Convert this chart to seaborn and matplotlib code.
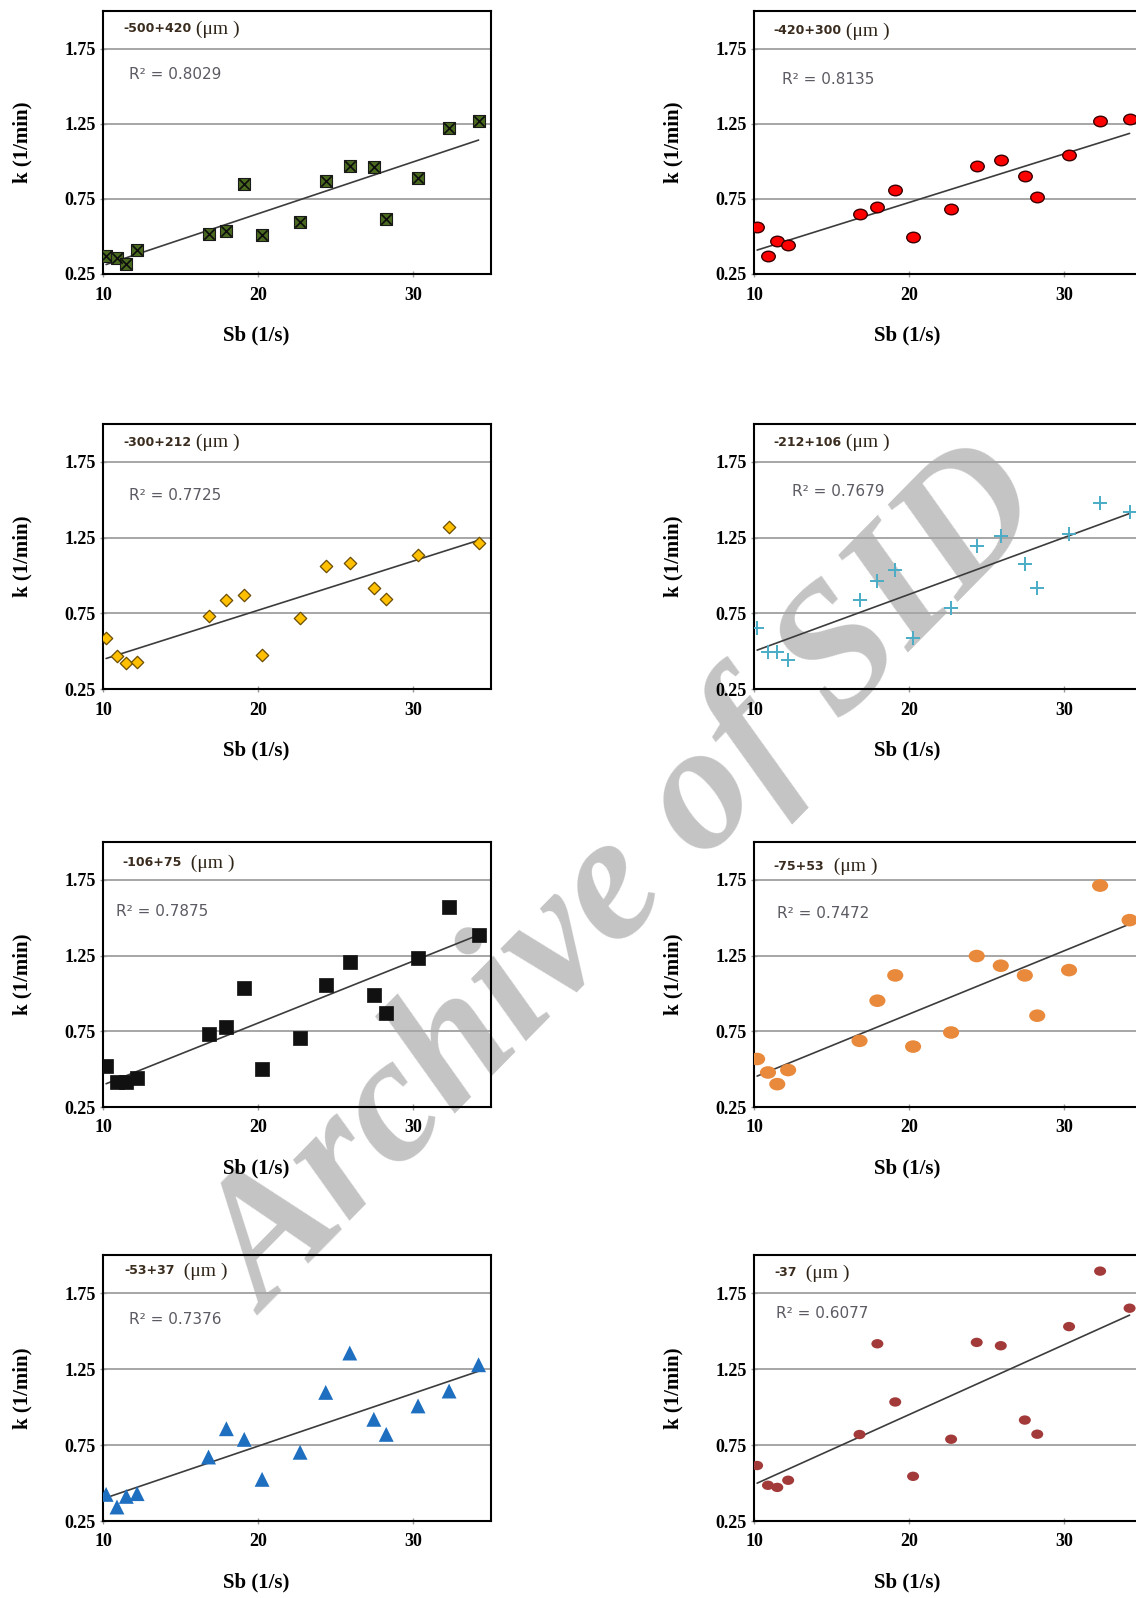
import numpy as np
import pandas as pd
import matplotlib
matplotlib.use("Agg")
import matplotlib.pyplot as plt
import seaborn as sns
from matplotlib.path import Path
from matplotlib.transforms import Affine2D

# ---------------- data ----------------
sb = [10.2, 10.9, 11.5, 12.2, 16.8, 17.95, 19.1, 20.25, 22.7, 24.35,
      25.9, 27.45, 28.25, 30.3, 32.3, 34.2]

k_500_420 = [0.370, 0.357, 0.317, 0.410, 0.517, 0.539, 0.850, 0.510, 0.599, 0.870,
             0.968, 0.961, 0.614, 0.892, 1.219, 1.268]
k_420_300 = [0.564, 0.369, 0.467, 0.445, 0.650, 0.695, 0.810, 0.493, 0.681, 0.967,
             1.009, 0.905, 0.763, 1.040, 1.270, 1.279]
k_300_212 = [0.586, 0.466, 0.425, 0.427, 0.730, 0.835, 0.874, 0.473, 0.717, 1.062,
             1.084, 0.920, 0.842, 1.136, 1.322, 1.215]
k_212_106 = [0.656, 0.495, 0.495, 0.439, 0.838, 0.963, 1.037, 0.587, 0.785, 1.197,
             1.260, 1.075, 0.914, 1.275, 1.478, 1.422]
k_106_75 = [0.519, 0.418, 0.418, 0.440, 0.729, 0.780, 1.036, 0.504, 0.707, 1.056,
            1.209, 0.990, 0.871, 1.237, 1.573, 1.385]
k_75_53 = [0.567, 0.478, 0.401, 0.494, 0.687, 0.952, 1.119, 0.649, 0.742, 1.247,
           1.183, 1.119, 0.853, 1.154, 1.712, 1.484]
k_53_37 = [0.425, 0.342, 0.412, 0.430, 0.671, 0.857, 0.787, 0.524, 0.702, 1.096,
           1.355, 0.919, 0.820, 1.007, 1.105, 1.278]
k_37 = [0.615, 0.485, 0.471, 0.518, 0.819, 1.416, 1.033, 0.544, 0.788, 1.425,
        1.403, 0.914, 0.821, 1.529, 1.894, 1.650]

series = [k_500_420, k_420_300, k_300_212, k_212_106, k_106_75, k_75_53, k_53_37, k_37]
sizes_txt = ["-500+420", "-420+300", "-300+212", "-212+106", "-106+75", "-75+53", "-53+37", "-37"]
unit_txt = [" (\u03bcm )", " (\u03bcm )", " (\u03bcm )", " (\u03bcm )",
            "  (\u03bcm )", "  (\u03bcm )", "  (\u03bcm )", "  (\u03bcm )"]
r2_txt = ["0.8029", "0.8135", "0.7725", "0.7679", "0.7875", "0.7472", "0.7376", "0.6077"]
x_ticks = [10, 20, 30]
y_ticks = [0.25, 0.75, 1.25, 1.75]
y_ticklabels = ["0.25", "0.75", "1.25", "1.75"]

# ---------------- style ----------------
sns.set_theme(style="white")
plt.rcParams["font.family"] = ["DejaVu Sans"]

W, H = 1136, 1598
fig = plt.figure(figsize=(W / 100, H / 100), dpi=100, facecolor="white")

ellipse = Path.unit_circle().transformed(Affine2D().scale(1.0, 0.78))
styles = [
    dict(marker="s", color="#4a6a20", edgecolor="#1a1a1a", s=72, linewidth=0.8),
    dict(marker=ellipse, color="#ff0000", edgecolor="#3a0000", s=95, linewidth=1.0),
    dict(marker="D", color="#ffc000", edgecolor="#6b4c00", s=40, linewidth=0.9),
    dict(marker="+", color="#4bacc6", s=110, linewidth=1.4),
    dict(marker="s", color="#111111", edgecolor="#111111", s=100, linewidth=0.5),
    dict(marker=ellipse, color="#e8893c", edgecolor="none", s=135, linewidth=0),
    dict(marker="^", color="#1f6fc0", edgecolor="none", s=115, linewidth=0),
    dict(marker=ellipse, color="#a33a3a", edgecolor="none", s=75, linewidth=0),
]

col_left = [103, 754]
ax_w = 388
row_top = [11, 424, 842, 1255]
row_bot = [274, 689, 1107, 1521]
title_off = [(20, 18), (19, 20), (20, 18), (19, 18), (19, 21), (19, 24), (21, 16), (20, 18)]
r2_off = [(26, 64), (28, 69), (26, 71), (38, 67), (13, 70), (23, 72), (26, 64), (22, 59)]

serif = "Liberation Serif"

for i, kvals in enumerate(series):
    r, c = divmod(i, 2)
    l, t, b = col_left[c], row_top[r], row_bot[r]
    ax = fig.add_axes([l / W, 1 - b / H, ax_w / W, (b - t) / H])
    ax.set_facecolor("none")
    df = pd.DataFrame({"Sb": sb, "k": kvals})

    ax.set_xlim(10, 35)
    ax.set_ylim(0.25, 2.0)
    for yv in y_ticks[1:]:
        ax.axhline(yv, color="#a6a6a6", lw=1.4, zorder=0.5)

    sns.regplot(data=df, x="Sb", y="k", scatter=False, ci=None, truncate=True,
                line_kws=dict(color="#3c3c3c", lw=1.2, zorder=2), ax=ax)
    st = dict(styles[i])
    sns.scatterplot(data=df, x="Sb", y="k", legend=False, zorder=3, ax=ax, **st)
    if i == 0:
        sns.scatterplot(data=df, x="Sb", y="k", legend=False, zorder=4, ax=ax,
                        marker="x", color="#0d0d0d", s=55, linewidth=1.2)

    ax.set_xlim(10, 35)
    ax.set_ylim(0.25, 2.0)
    ax.set_xticks(x_ticks)
    ax.set_xticklabels([str(v) for v in x_ticks])
    ax.set_yticks(y_ticks)
    ax.set_yticklabels(y_ticklabels)
    for lab in ax.get_xticklabels() + ax.get_yticklabels():
        lab.set_fontfamily(serif)
        lab.set_fontweight("bold")
        lab.set_fontsize(13)
        lab.set_color("black")
    ax.tick_params(axis="both", direction="inout", length=4, width=1,
                   color="#9a9a9a", bottom=True, left=True)
    ax.tick_params(axis="x", pad=7)
    ax.tick_params(axis="y", pad=3)
    for sp in ax.spines.values():
        sp.set_color("black")
        sp.set_linewidth(1.5)
        sp.set_visible(True)
    ax.grid(False)

    ax.set_xlabel("Sb (1/s)", fontfamily=serif, fontweight="bold", fontsize=15,
                  color="black")
    ax.set_ylabel("k (1/min)", fontfamily=serif, fontweight="bold", fontsize=15,
                  color="black")
    ax.xaxis.set_label_coords(0.394, -0.195)
    ax.yaxis.set_label_coords(-0.183, 0.5)

    tx, ty = title_off[i]
    t1 = ax.annotate(sizes_txt[i], xy=(0, 1), xycoords="axes fraction",
                     xytext=(tx, -ty), textcoords="offset pixels",
                     ha="left", va="center", fontsize=9, fontweight="bold",
                     color="#3a2c1e", family="DejaVu Sans")
    ax.annotate(unit_txt[i], xy=(1, 0.5), xycoords=t1, ha="left", va="center",
                fontsize=14, color="#2e2418", family=serif)
    rx, ry = r2_off[i]
    ax.annotate("R\u00b2 = " + r2_txt[i], xy=(0, 1), xycoords="axes fraction",
                xytext=(rx, -ry), textcoords="offset pixels",
                ha="left", va="center", fontsize=11, color="#5c5a62",
                family="DejaVu Sans")

# watermark
fig.text(0.553, 0.4475, "Archive of SID", rotation=45.5, fontsize=130,
         fontweight="bold", style="italic", family=serif, color="#c4c4c4",
         ha="center", va="center", zorder=-1, rotation_mode="anchor")

fig.savefig("out.png", dpi=100, facecolor="white")
